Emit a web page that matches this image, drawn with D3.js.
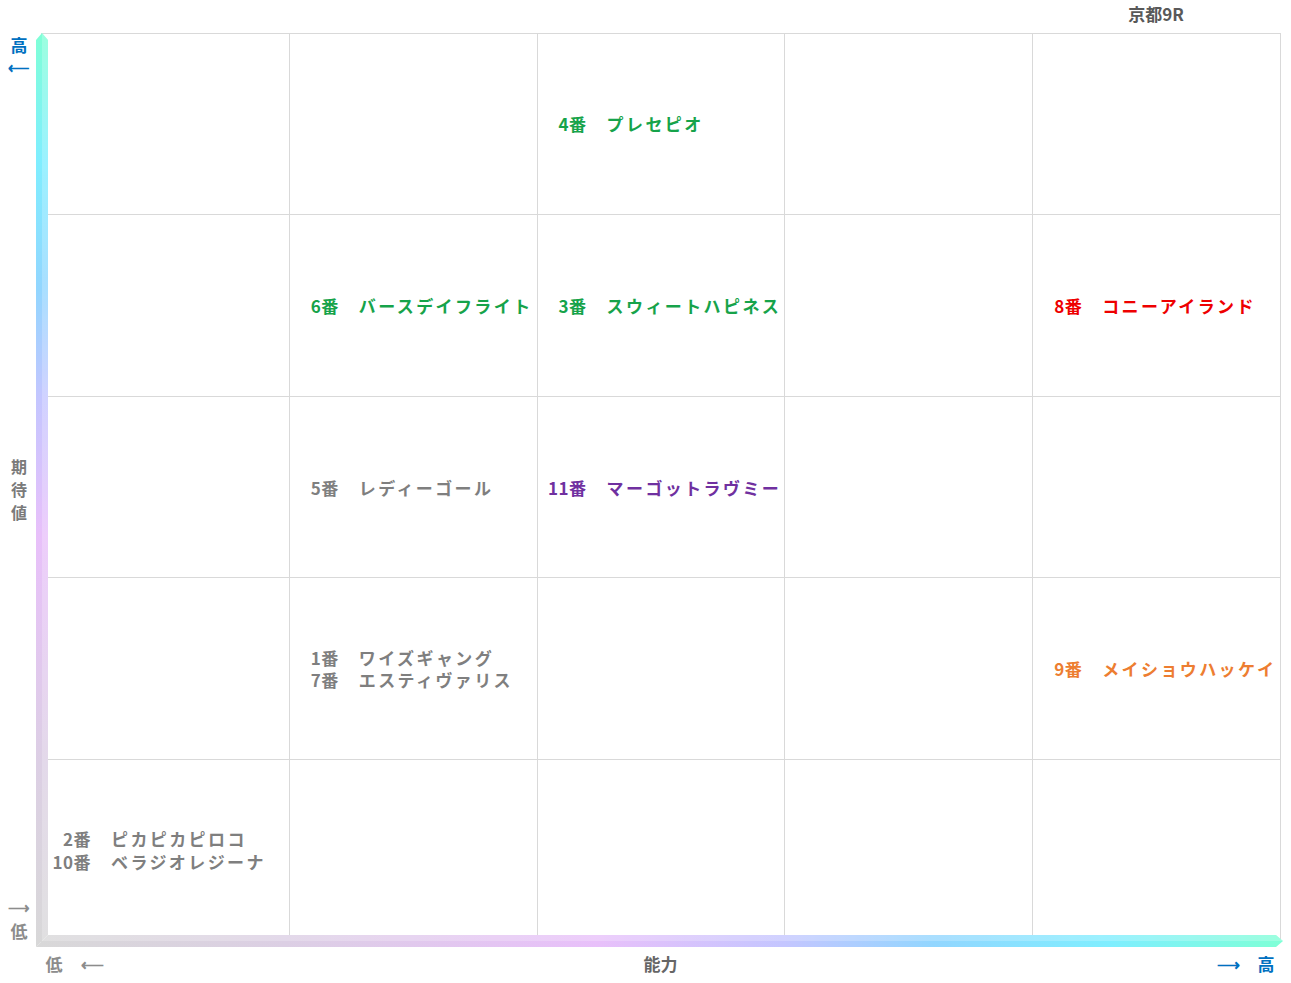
<!DOCTYPE html>
<html>
<head>
<meta charset="utf-8">
<script src="https://cdn.jsdelivr.net/npm/d3@7"></script>
<style>
  body { margin: 0; background: #fff; }
  text { font-family: "Noto Sans CJK JP", "Noto Sans", sans-serif; font-weight: bold; }
</style>
</head>
<body>
<div id="chart"></div>
<script>
// horses: number, name, ability column (0 = low), expectation row (0 = low), colour
const horseNums   = [4, 6, 3, 8, 5, 11, 1, 7, 9, 2, 10]
const horseNames  = ["プレセピオ", "バースデイフライト", "スウィートハピネス", "コニーアイランド",
                     "レディーゴール", "マーゴットラヴミー", "ワイズギャング", "エスティヴァリス",
                     "メイショウハッケイ", "ピカピカピロコ", "ベラジオレジーナ"]
const abilityRank = [2, 1, 2, 4, 1, 2, 1, 1, 4, 0, 0]
const expectRank  = [4, 3, 3, 3, 2, 2, 1, 1, 1, 0, 0]
const horseColors = ["#16a34a", "#16a34a", "#16a34a", "#ee0000", "#7f7f7f", "#7030a0",
                     "#7f7f7f", "#7f7f7f", "#ed7d31", "#7f7f7f", "#7f7f7f"]
const levels = [0, 1, 2, 3, 4]
const title = "京都9R"

const width = 1291
const height = 983
const margin = {top: 33, right: 11, bottom: 42, left: 41}

const svg = d3.select("#chart")
    .append("svg")
    .attr("width", width)
    .attr("height", height)

const x = d3.scaleBand()
    .domain(levels)
    .range([margin.left, width - margin.right])

const y = d3.scaleBand()
    .domain(levels.slice().reverse())
    .range([margin.top, height - margin.bottom])

const gridLayer = svg.append("g")
const axisLayer = svg.append("g")
const labelLayer = svg.append("g")
const textLayer = svg.append("g")

// grid
const x0 = x.range()[0], x1 = x.range()[1]
const y0 = y.range()[0], y1 = y.range()[1]
gridLayer.attr("stroke", "#d9d9d9").attr("stroke-width", 1).attr("fill", "none")
gridLayer.selectAll("line.v")
    .data(levels.concat([5]))
    .join("line")
    .attr("class", "v")
    .attr("x1", d => Math.round(x0 + d * x.bandwidth()) + 0.5)
    .attr("x2", d => Math.round(x0 + d * x.bandwidth()) + 0.5)
    .attr("y1", y0).attr("y2", y1)
gridLayer.selectAll("line.h")
    .data(levels.concat([5]))
    .join("line")
    .attr("class", "h")
    .attr("y1", d => Math.floor(y0 + d * y.bandwidth()) + 0.5)
    .attr("y2", d => Math.floor(y0 + d * y.bandwidth()) + 0.5)
    .attr("x1", x0).attr("x2", x1)

// gradient axes
const defs = svg.append("defs")
const stops = [
  {o: 0, c: "#d8d8d8"}, {o: 0.2, c: "#dccfe4"}, {o: 0.45, c: "#e8c0fa"},
  {o: 0.6, c: "#c4c6ff"}, {o: 0.72, c: "#92d6ff"}, {o: 0.86, c: "#7feeff"}, {o: 1, c: "#7fffd6"}
]
const bw = 12
const ax = x0 - 5          // left edge of vertical bar
const ay = y1 + 6          // bottom edge of horizontal bar
defs.append("linearGradient")
    .attr("id", "gv").attr("gradientUnits", "userSpaceOnUse")
    .attr("x1", 0).attr("x2", 0).attr("y1", ay).attr("y2", y0)
    .selectAll("stop").data(stops).join("stop")
    .attr("offset", d => d.o).attr("stop-color", d => d.c)
defs.append("linearGradient")
    .attr("id", "gh").attr("gradientUnits", "userSpaceOnUse")
    .attr("x1", ax).attr("x2", x1 + 3).attr("y1", 0).attr("y2", 0)
    .selectAll("stop").data(stops).join("stop")
    .attr("offset", d => d.o).attr("stop-color", d => d.c)

axisLayer.append("path")
    .attr("fill", "url(#gv)")
    .attr("d", `M${ax},${ay} L${ax},${y0 + 7} L${ax + bw / 2},${y0} L${ax + bw},${y0 + 7} L${ax + bw},${ay - bw} Z`)
axisLayer.append("path")
    .attr("fill", "url(#gh)")
    .attr("d", `M${ax},${ay} L${ax + bw},${ay - bw} L${x1 - 4},${ay - bw} L${x1 + 3},${ay - bw / 2} L${x1 - 4},${ay} Z`)
// soft bevel highlight
axisLayer.append("path")
    .attr("fill", "#fff").attr("opacity", 0.22)
    .attr("d", `M${ax + bw / 2},${ay - bw / 2} L${ax + bw / 2},${y0} L${ax + bw},${y0 + 7} L${ax + bw},${ay - bw} Z`)
axisLayer.append("path")
    .attr("fill", "#fff").attr("opacity", 0.22)
    .attr("d", `M${ax + bw / 2},${ay - bw / 2} L${ax + bw},${ay - bw} L${x1 - 4},${ay - bw} L${x1 + 3},${ay - bw / 2} Z`)

// axis labels
const blue = "#0070c0"
const grey = "#8c8c8c"
const lbl = (px, py, t, c, size) => labelLayer.append("text")
    .attr("x", px).attr("y", py)
    .attr("text-anchor", "middle").attr("dominant-baseline", "central")
    .attr("font-size", size || 17).attr("fill", c).text(t)

lbl(19, 44, "高", blue)
lbl(19, 66, "⟵", blue, 15)
lbl(19, 906, "⟶", grey, 15)
lbl(19, 930, "低", grey)
;["期", "待", "値"].forEach((t, i) => lbl(19, 466 + i * 23, t, "#7a7a7a", 16))
lbl(54, 963, "低", grey)
lbl(92, 963, "⟵", grey, 16)
lbl((x0 + x1) / 2, 963, "能力", "#666666")
lbl(1228, 963, "⟶", blue, 16)
lbl(1266, 963, "高", blue)
lbl(1156, 13, title, "#595959")

// horse labels
const horses = horseNums.map((n, i) => ({
  num: n, name: horseNames[i], col: abilityRank[i], row: expectRank[i], color: horseColors[i]
}))
const cells = d3.groups(horses, d => d.col + "-" + d.row)
const lineGap = 22.5

cells.forEach(([key, list]) => {
  list.forEach((d, i) => {
    const cy = y(d.row) + y.bandwidth() / 2 + (i - (list.length - 1) / 2) * lineGap
    const g = textLayer.append("g").attr("fill", d.color).attr("font-size", 17)
    g.append("text")
        .attr("x", x(d.col) + 50).attr("y", cy)
        .attr("text-anchor", "end").attr("dominant-baseline", "central")
        .attr("letter-spacing", 0.5)
        .text(d.num + "番")
    g.append("text")
        .attr("x", x(d.col) + 70).attr("y", cy)
        .attr("dominant-baseline", "central")
        .attr("letter-spacing", 2.4)
        .text(d.name)
  })
})
</script>
</body>
</html>
